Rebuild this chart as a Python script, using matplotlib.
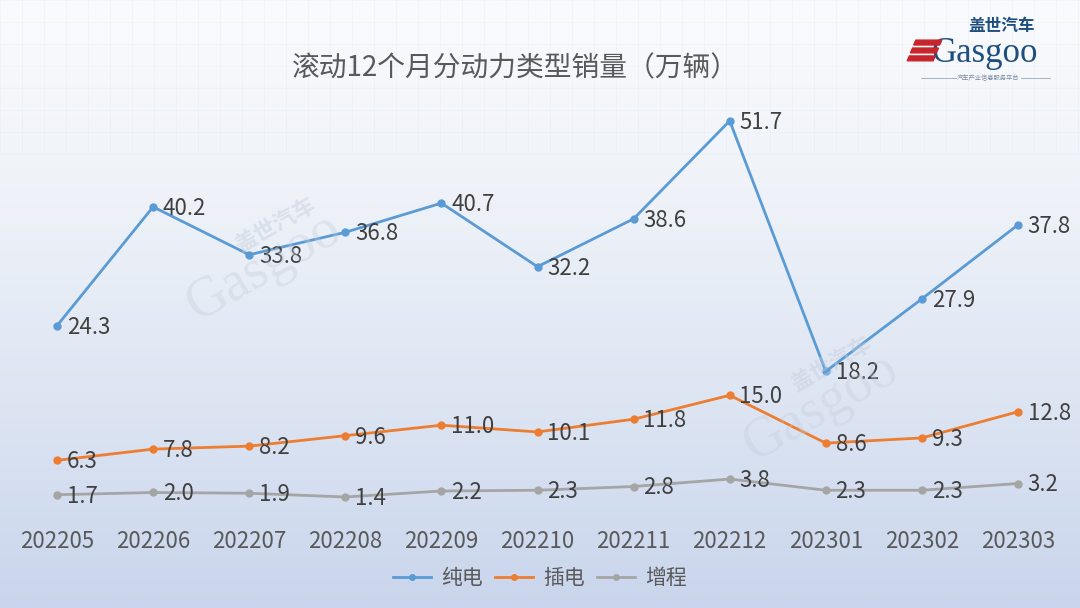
import numpy as np
import matplotlib
matplotlib.use("Agg")
import matplotlib.pyplot as plt
from matplotlib.colors import LinearSegmentedColormap
from matplotlib.patches import Polygon

months = ["202205", "202206", "202207", "202208", "202209", "202210",
          "202211", "202212", "202301", "202302", "202303"]
bev = [24.3, 40.2, 33.8, 36.8, 40.7, 32.2, 38.6, 51.7, 18.2, 27.9, 37.8]
phev = [6.3, 7.8, 8.2, 9.6, 11.0, 10.1, 11.8, 15.0, 8.6, 9.3, 12.8]
erev = [1.7, 2.0, 1.9, 1.4, 2.2, 2.3, 2.8, 3.8, 2.3, 2.3, 3.2]

series = [("纯电", bev, "#5b9bd5"), ("插电", phev, "#ed7d31"), ("增程", erev, "#a5a5a5")]

plt.rcParams["font.family"] = ["Noto Sans CJK SC", "DejaVu Sans"]

fig = plt.figure(figsize=(10.8, 6.08), dpi=100)

# background gradient + faint grid in the upper part
bg = fig.add_axes([0, 0, 1, 1], zorder=0)
grad = np.linspace(0, 1, 256).reshape(-1, 1)
cmap = LinearSegmentedColormap.from_list("bg", ["#fafbfd", "#eef2f8", "#dde5f3", "#c9d5ec"])
bg.imshow(grad, aspect="auto", cmap=cmap, extent=[0, 1, 0, 1], origin="upper")
for gx in np.arange(0, 1080, 22):
    bg.plot([gx / 1080, gx / 1080], [0.75, 1], color="#e2e7f0", lw=0.6, alpha=0.35)
for gy in np.arange(0, 160, 22):
    bg.plot([0, 1], [1 - gy / 608, 1 - gy / 608], color="#e2e7f0", lw=0.6, alpha=0.35)
bg.set_xlim(0, 1)
bg.set_ylim(0, 1)
bg.axis("off")

# watermarks
for (wx, wy) in [(0.255, 0.56), (0.77, 0.33)]:
    fig.text(wx, wy + 0.07, "盖世汽车", rotation=30, fontsize=16, color="#c3ccdb",
             alpha=0.45, ha="center", va="center", fontweight="bold")
    fig.text(wx - 0.01, wy, "Gasgoo", rotation=30, fontsize=40, color="#c3ccdb",
             alpha=0.35, ha="center", va="center", family="Liberation Serif")

ax = fig.add_axes([0, 0.158, 1, 0.6776], zorder=2)
ax.patch.set_alpha(0)
x = np.arange(len(months))
for name, vals, col in series:
    ax.plot(x, vals, color=col, lw=2, marker="o", ms=5, label=name)
    for i, v in enumerate(vals):
        ax.annotate(f"{v:.1f}", (i, v), xytext=(7, -1), textcoords="offset points",
                    va="center", ha="left", fontsize=16, color="#404040")

ax.set_xlim(-0.593, 10.645)
ax.set_ylim(-0.6, 54.5)
ax.set_xticks(x)
ax.set_xticklabels(months, fontsize=16, color="#595959")
ax.tick_params(axis="x", length=0, pad=13)
ax.set_yticks([])
for s in ax.spines.values():
    s.set_visible(False)

fig.text(0.477, 0.888, "滚动12个月分动力类型销量（万辆）", ha="center", va="center",
         fontsize=20, color="#595959")

leg = fig.legend(loc="center", bbox_to_anchor=(0.5, 0.049), ncol=3, frameon=False,
                 fontsize=15, handlelength=1.8, columnspacing=0.6, handletextpad=0.5,
                 markerscale=0.8)
for t in leg.get_texts():
    t.set_color("#595959")

# logo
fig.text(0.927, 0.958, "盖世汽车", ha="center", va="center", fontsize=12,
         color="#1f4f7f", fontweight="bold")
fig.text(0.912, 0.912, "Gasgoo", ha="center", va="center", fontsize=25,
         color="#1f4f7f", family="Liberation Serif")
for k in range(3):
    y0 = 0.900 + k * 0.013
    fig.patches.append(Polygon([(0.840 + k * 0.003, y0), (0.864 + k * 0.003, y0),
                                (0.866 + k * 0.003, y0 + 0.008), (0.842 + k * 0.003, y0 + 0.008)],
                               closed=True, transform=fig.transFigure, color="#c8242b", zorder=5))
fig.text(0.915, 0.872, "汽车产业信息服务平台", ha="center", va="center", fontsize=4.5,
         color="#7a8aa0")
fig.lines.append(plt.Line2D([0.853, 0.885], [0.872, 0.872], transform=fig.transFigure,
                            color="#9aa6b8", lw=0.6))
fig.lines.append(plt.Line2D([0.945, 0.972], [0.872, 0.872], transform=fig.transFigure,
                            color="#9aa6b8", lw=0.6))

fig.savefig("out.png", dpi=100)
